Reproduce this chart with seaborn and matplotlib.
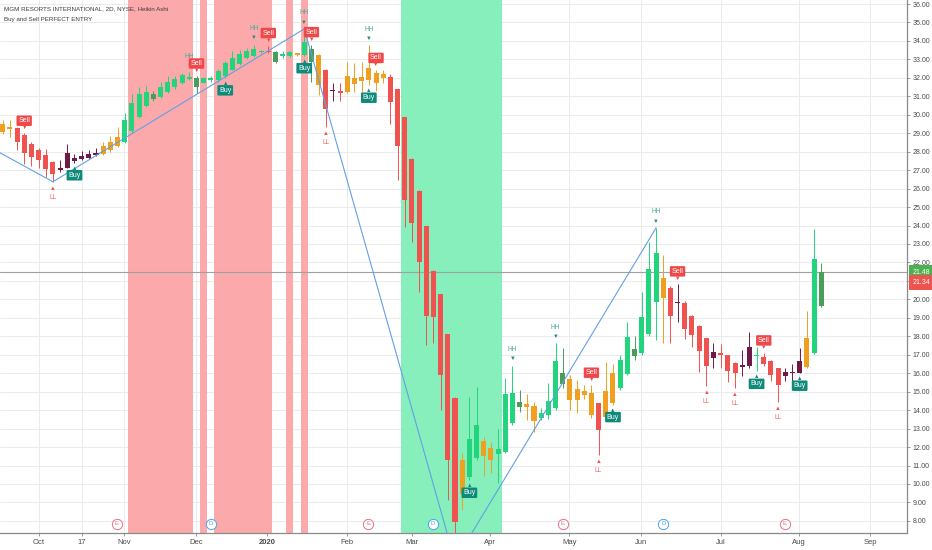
import matplotlib
matplotlib.use("Agg")
import matplotlib.pyplot as plt
import matplotlib.transforms as mtransforms
import numpy as np
import seaborn as sns

title = "MGM RESORTS INTERNATIONAL, 2D, NYSE, Heikin Ashi"
subtitle = "Buy and Sell PERFECT ENTRY"

# Heikin Ashi candles (one per 2 days), bar colour code from the indicator
# g = bull, d = weak bull, o = pullback, r = bear, m = weak bear
kind = list("oorrrrrrmm" "mmmmoooggg" "gdgggggdgg" "gggggggrdg" "gogdormroo"
            "oooorrrrrr" "rrrroggoog" "ggdoogggdo" "ooorooggdg" "ggormrrrrm"
            "rrrmmgrrrm" "mmogd")

body_top = [29.49, 29.30, 29.26, 28.90, 28.40, 28.08, 27.80, 27.45, 27.14, 27.93,
            27.66, 27.75, 27.90, 27.93, 28.30, 28.53, 28.77, 29.74, 30.65, 31.15,
            31.24, 31.12, 31.48, 31.79, 31.95, 32.15, 32.02, 31.97, 32.00, 31.95,
            32.38, 32.78, 33.10, 33.30, 33.45, 33.58, 33.42, 33.42, 33.40, 33.25,
            33.40, 33.28, 33.95, 33.58, 33.23, 32.42, 31.33, 31.27, 32.10, 32.00,
            32.02, 32.53, 32.24, 32.20, 32.06, 31.37, 29.86, 27.60, 25.87, 23.97,
            21.55, 20.29, 18.11, 14.64, 11.29, 12.41, 13.19, 12.32, 11.93, 11.89,
            14.87, 14.94, 14.45, 14.31, 14.22, 13.82, 14.51, 16.66, 16.03, 15.66,
            15.12, 15.05, 14.94, 14.36, 15.05, 16.03, 16.72, 17.95, 17.32, 19.07,
            21.63, 22.50, 21.18, 20.64, 19.85, 19.83, 19.10, 18.58, 17.89, 17.13,
            17.05, 16.99, 16.54, 16.45, 17.44, 16.97, 16.90, 16.67, 16.27, 16.08,
            16.06, 16.67, 17.89, 22.19, 21.50]
body_bot = [29.07, 29.25, 28.53, 27.93, 27.70, 27.57, 27.08, 26.80, 27.03, 27.14,
            27.50, 27.60, 27.68, 27.80, 27.86, 28.08, 28.30, 28.53, 29.13, 29.90,
            30.47, 30.83, 30.97, 31.24, 31.48, 31.70, 31.95, 31.52, 31.73, 31.91,
            31.88, 32.10, 32.45, 32.75, 33.05, 33.20, 33.38, 33.38, 32.87, 33.20,
            33.18, 33.25, 33.23, 32.87, 31.60, 30.29, 31.27, 31.20, 31.24, 31.66,
            31.84, 31.91, 31.70, 31.97, 30.70, 28.30, 25.38, 24.12, 22.04, 19.12,
            19.03, 15.90, 11.29, 7.95, 9.45, 10.36, 11.38, 11.53, 11.29, 11.62,
            11.75, 13.32, 14.15, 14.18, 13.43, 13.60, 13.73, 14.13, 15.41, 14.54,
            14.54, 14.82, 13.73, 12.92, 13.64, 14.36, 15.18, 15.94, 16.94, 17.12,
            18.11, 19.88, 20.10, 19.12, 19.81, 18.38, 18.07, 17.20, 16.39, 16.85,
            17.00, 16.14, 16.03, 16.32, 16.41, 16.93, 16.50, 15.91, 15.36, 15.84,
            16.00, 16.03, 16.36, 17.12, 19.65]
wick_hi = [29.70, 29.71, 29.35, 29.00, 28.50, 28.20, 28.17, 27.50, 27.53, 28.40,
           27.90, 28.05, 28.10, 28.20, 28.55, 28.85, 29.35, 30.07, 31.15, 31.50,
           31.55, 31.30, 31.80, 32.10, 32.10, 32.25, 32.30, 32.10, 32.05, 32.10,
           32.50, 32.90, 33.46, 33.50, 33.60, 33.80, 33.50, 33.75, 33.45, 33.45,
           33.45, 33.35, 34.65, 33.80, 33.30, 32.50, 31.70, 31.70, 32.88, 32.80,
           32.88, 33.78, 32.40, 32.45, 32.20, 31.40, 29.90, 27.65, 25.90, 24.00,
           21.60, 20.30, 18.15, 14.70, 11.66, 14.69, 15.27, 12.56, 12.30, 13.00,
           15.72, 16.40, 15.09, 14.90, 14.45, 14.09, 15.45, 17.62, 17.35, 15.90,
           15.63, 15.35, 15.35, 14.40, 16.63, 16.50, 17.00, 18.80, 18.00, 20.42,
           23.13, 23.87, 22.40, 20.70, 20.84, 19.90, 19.15, 18.60, 17.92, 17.65,
           17.60, 17.00, 16.60, 17.26, 18.25, 17.44, 17.10, 16.70, 16.30, 16.30,
           16.50, 17.35, 19.37, 23.80, 21.96]
wick_lo = [28.95, 28.80, 28.08, 27.35, 27.20, 27.10, 26.65, 26.37, 26.90, 27.10,
           27.40, 27.55, 27.60, 27.75, 27.80, 28.00, 28.25, 28.45, 29.00, 29.80,
           30.40, 30.75, 30.90, 31.20, 31.40, 31.65, 31.90, 31.20, 31.70, 31.80,
           31.80, 32.00, 32.40, 32.70, 33.00, 33.15, 33.35, 33.35, 32.78, 33.10,
           33.15, 33.20, 33.20, 31.80, 31.05, 29.35, 30.75, 30.75, 31.20, 31.24,
           31.24, 31.60, 31.30, 31.70, 29.50, 26.45, 23.94, 23.12, 20.41, 17.53,
           17.62, 14.00, 9.13, 5.83, 8.59, 10.20, 11.30, 10.43, 10.57, 10.03,
           11.70, 13.20, 13.90, 13.46, 12.83, 13.46, 13.50, 14.00, 15.20, 14.00,
           13.82, 14.60, 13.60, 11.57, 13.50, 14.30, 15.10, 15.90, 16.72, 17.00,
           18.00, 17.80, 17.62, 17.62, 18.80, 17.84, 17.44, 16.09, 15.30, 16.27,
           16.27, 15.53, 15.18, 15.83, 16.30, 16.10, 16.40, 15.60, 14.45, 15.60,
           15.60, 16.00, 16.30, 17.05, 19.60]

# signals (bar index)
buy_bars = [10, 31, 42, 51, 65, 85, 105, 111]
sell_bars = [3, 27, 37, 43, 52, 82, 94, 106]
hh_bars = [26, 35, 42, 51, 71, 77, 91]
ll_bars = [7, 45, 83, 98, 102, 108]

# background highlight bars
red_bg_bars = [18, 19, 20, 21, 22, 23, 24, 25, 26, 28, 30, 31, 32, 33, 34, 35, 36, 37, 40, 42]
green_bg_bars = list(range(56, 70))

# zigzag pivots
zz_bars = [-10, 7, 42, 63, 91]
zz_price = [29.99, 26.37, 34.65, 5.83, 23.87]

# events row (E = earnings, D = dividend)
event_bars = [15.9, 29.0, 50.9, 59.9, 78.0, 92.0, 108.9]
event_kind = ["E", "D", "E", "D", "E", "D", "E"]

date_ticks = [5.06, 11.05, 16.9, 26.9, 36.8, 47.96, 57.0, 67.9, 78.9, 88.9, 100.0, 110.9, 120.8]
date_labels = ["Oct", "17", "Nov", "Dec", "2020", "Feb", "Mar", "Apr", "May", "Jun", "Jul", "Aug", "Sep"]
price_ticks = list(range(8, 37))

last_price = 21.48
prev_price = 21.34

colors = {"g": "#22d47c", "d": "#4a9d5b", "o": "#f0a01e", "r": "#f0524f", "m": "#6e1a48"}
narrow = ["Liberation Sans Narrow", "Liberation Sans", "DejaVu Sans"]

sns.set_style("white")
plt.rcParams["font.family"] = ["Liberation Sans", "DejaVu Sans"]

fig = plt.figure(figsize=(9.32, 5.5), dpi=100)
ax = fig.add_axes([0, 17 / 550, 907 / 932, 533 / 550])


def runs(bars):
    # merge consecutive bar indices into (first, last) runs
    out = []
    start = prev = bars[0]
    for b in bars[1:]:
        if b != prev + 1:
            out.append((start, prev))
            start = b
        prev = b
    out.append((start, prev))
    return out


# grid under everything
for p in price_ticks:
    ax.axhline(p, color="#ebebeb", lw=0.7, zorder=0)
for t in date_ticks:
    ax.axvline(t, color="#ebebeb", lw=0.7, zorder=0)

for a, b in runs(red_bg_bars):
    ax.axvspan(a - 0.5, b + 0.5, color="#fca5a7", alpha=0.95, lw=0, zorder=0.5)
for a, b in runs(green_bg_bars):
    ax.axvspan(a - 0.5, b + 0.5, color="#80efb9", alpha=0.95, lw=0, zorder=0.5)

# candles
x = np.arange(len(kind))
cc = [colors[k] for k in kind]
top = np.array(body_top)
bot = np.array(body_bot)
ax.vlines(x, wick_lo, wick_hi, colors=cc, lw=0.7, zorder=2)
ax.bar(x, np.maximum(top - bot, 0.07), bottom=bot, width=0.7, color=cc, lw=0, zorder=3)

# zigzag
sns.lineplot(x=zz_bars, y=zz_price, ax=ax, color="#62a0e6", lw=0.8, sort=False,
             estimator=None, zorder=4)

# last price line
ax.axhline(last_price, color="#a0a0a0", lw=0.8, zorder=1)

# HH / LL markers
for i in hh_bars:
    ax.annotate("\u25BC", (i, wick_hi[i]), xytext=(0, 5), textcoords="offset points",
                ha="center", va="center", fontsize=4.2, color="#1f8f80", zorder=6)
    ax.annotate("HH", (i, wick_hi[i]), xytext=(0, 11.5), textcoords="offset points",
                ha="center", va="center", fontsize=4.8, color="#4aa89b", zorder=6,
                family=narrow)
for i in ll_bars:
    ax.annotate("\u25B2", (i, wick_lo[i]), xytext=(0, -4.5), textcoords="offset points",
                ha="center", va="center", fontsize=4.2, color="#f05252", zorder=6)
    ax.annotate("LL", (i, wick_lo[i]), xytext=(0, -11), textcoords="offset points",
                ha="center", va="center", fontsize=4.8, color="#f06a6a", zorder=6,
                family=narrow)

# Buy / Sell labels
for i in sell_bars:
    ax.annotate("\u25BC", (i, wick_hi[i]), xytext=(0, 4), textcoords="offset points",
                ha="center", va="center", fontsize=4, color="#f04848", zorder=7)
    ax.annotate("Sell", (i, wick_hi[i]), xytext=(0, 9), textcoords="offset points",
                ha="center", va="center", fontsize=5.0, color="white", zorder=8,
                bbox=dict(boxstyle="round,pad=0.25,rounding_size=0.15", fc="#f04848", ec="none"))
for i in buy_bars:
    ax.annotate("\u25B2", (i, wick_lo[i]), xytext=(0, -4), textcoords="offset points",
                ha="center", va="center", fontsize=4, color="#0e8a7a", zorder=7)
    ax.annotate("Buy", (i, wick_lo[i]), xytext=(0, -9), textcoords="offset points",
                ha="center", va="center", fontsize=5.0, color="white", zorder=8,
                bbox=dict(boxstyle="round,pad=0.25,rounding_size=0.15", fc="#0e8a7a", ec="none"))

# events row
trans_ev = mtransforms.blended_transform_factory(ax.transData, ax.transAxes)
for xe, k in zip(event_bars, event_kind):
    ec = "#e57383" if k == "E" else "#4aa3f0"
    ax.scatter([xe], [0.017], s=55, facecolor="white", edgecolor=ec, lw=0.7,
               transform=trans_ev, zorder=6, clip_on=False)
    ax.text(xe, 0.017, k, transform=trans_ev, ha="center", va="center",
            fontsize=4.3, color=ec, zorder=7)

ax.set_xlim(-0.37, 125.95)
ax.set_ylim(7.344, 36.217)

ax.yaxis.tick_right()
ax.set_yticks(price_ticks)
ax.set_yticklabels([f"{p:.2f}" for p in price_ticks], family=narrow)
ax.set_xticks(date_ticks)
ax.set_xticklabels(date_labels)
for lbl in ax.get_xticklabels():
    if lbl.get_text() == "2020":
        lbl.set_fontweight("bold")
ax.tick_params(axis="y", length=2.5, width=0.6, color="#8a8a8a", pad=1.5,
               labelsize=5.0, labelcolor="#4a4a4a", right=True, left=False)
ax.tick_params(axis="x", length=2.5, width=0.6, color="#8a8a8a", pad=2,
               labelsize=5.5, labelcolor="#4a4a4a", bottom=True)
for s in ["top", "left"]:
    ax.spines[s].set_visible(False)
for s in ["right", "bottom"]:
    ax.spines[s].set_color("#8a8a8a")
    ax.spines[s].set_linewidth(0.9)
ax.set_xlabel("")
ax.set_ylabel("")

# price badges on the right scale
trans_px = mtransforms.blended_transform_factory(ax.transAxes, ax.transData)
ax.text(1.006, last_price, f"{last_price:.2f}", transform=trans_px, ha="left", va="center",
        fontsize=5.0, color="white", zorder=10, clip_on=False, family=narrow,
        bbox=dict(boxstyle="square,pad=0.55", fc="#4caf50", ec="none"))
ax.text(1.006, prev_price - 0.42, f"{prev_price:.2f}", transform=trans_px, ha="left",
        va="center", fontsize=5.0, color="white", zorder=10, clip_on=False, family=narrow,
        bbox=dict(boxstyle="square,pad=0.55", fc="#ef5350", ec="none"))

fig.text(4 / 932, 1 - 9 / 550, title, fontsize=4.5, color="#3c3c3c", va="center",
         ha="left", family=narrow)
fig.text(4 / 932, 1 - 19 / 550, subtitle, fontsize=4.5, color="#3c3c3c", va="center",
         ha="left", family=narrow)

fig.savefig("out.png", dpi=100, facecolor="white")
